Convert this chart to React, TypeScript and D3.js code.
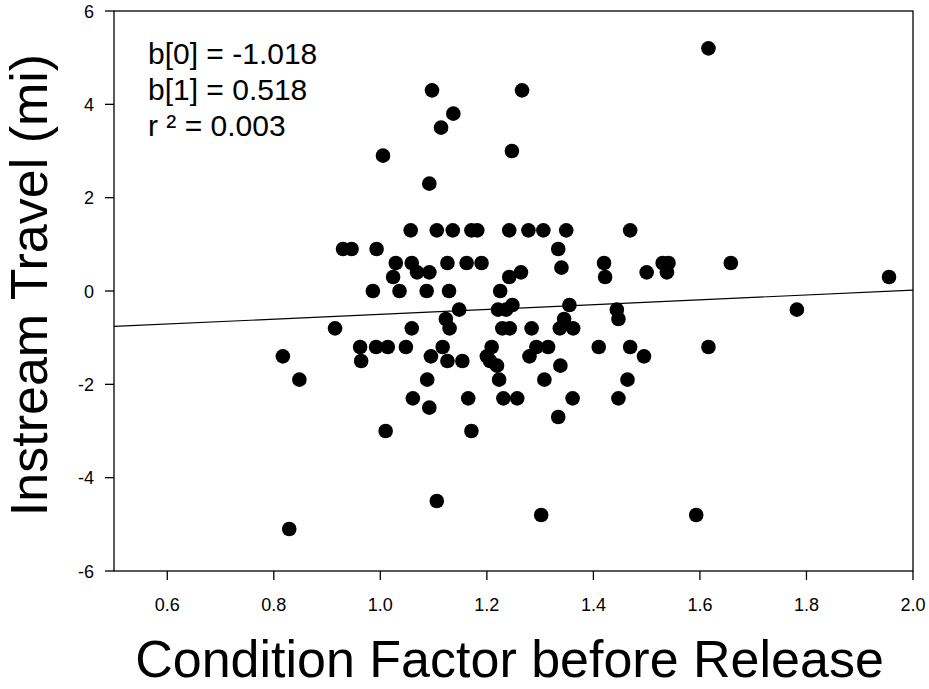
import React from "react";
import * as d3 from "d3";

const conditionFactor = [
  1.616, 1.469, 1.420, 1.422, 1.500, 1.530, 1.541, 1.538, 1.658, 1.955,
  1.444, 1.447, 1.782, 1.410, 1.469, 1.495, 1.616, 1.092, 1.057, 1.106,
  1.136, 0.930, 0.946, 0.993, 1.029, 1.059, 1.069, 1.092, 1.024, 1.126,
  0.986, 1.036, 1.087, 1.129, 1.148, 1.123, 1.130, 0.915, 1.059, 0.817,
  0.848, 0.962, 0.992, 1.014, 1.048, 0.964, 1.117, 1.095, 1.126, 1.154,
  1.088, 1.061, 1.092, 1.010, 1.171, 1.182, 1.242, 1.278, 1.306, 1.349,
  1.334, 1.162, 1.190, 1.264, 1.242, 1.340, 1.225, 1.221, 1.236, 1.248,
  1.355, 1.229, 1.243, 1.284, 1.345, 1.337, 1.362, 1.209, 1.293, 1.315,
  1.280, 1.200, 1.206, 1.219, 1.338, 1.223, 1.308, 1.464, 1.165, 1.231,
  1.257, 1.361, 1.447, 1.334, 1.171, 1.005, 1.097, 1.114, 1.137, 1.266,
  1.247, 0.829, 1.106, 1.302, 1.593,
];

const instreamTravel = [
  5.2, 1.3, 0.6, 0.3, 0.4, 0.6, 0.6, 0.4, 0.6, 0.3,
  -0.4, -0.6, -0.4, -1.2, -1.2, -1.4, -1.2, 2.3, 1.3, 1.3,
  1.3, 0.9, 0.9, 0.9, 0.6, 0.6, 0.4, 0.4, 0.3, 0.6,
  0.0, 0.0, 0.0, 0.0, -0.4, -0.6, -0.8, -0.8, -0.8, -1.4,
  -1.9, -1.2, -1.2, -1.2, -1.2, -1.5, -1.2, -1.4, -1.5, -1.5,
  -1.9, -2.3, -2.5, -3.0, 1.3, 1.3, 1.3, 1.3, 1.3, 1.3,
  0.9, 0.6, 0.6, 0.4, 0.3, 0.5, 0.0, -0.4, -0.4, -0.3,
  -0.3, -0.8, -0.8, -0.8, -0.6, -0.8, -0.8, -1.2, -1.2, -1.2,
  -1.4, -1.4, -1.5, -1.6, -1.6, -1.9, -1.9, -1.9, -2.3, -2.3,
  -2.3, -2.3, -2.3, -2.7, -3.0, 2.9, 4.3, 3.5, 3.8, 4.3,
  3.0, -5.1, -4.5, -4.8, -4.8,
];

const xTicks = [0.6, 0.8, 1.0, 1.2, 1.4, 1.6, 1.8, 2.0];
const yTicks = [-6, -4, -2, 0, 2, 4, 6];
const b0 = -1.018;
const b1 = 0.518;
const r2 = 0.003;
const statLines = [`b[0] = ${b0.toFixed(3)}`, `b[1] = ${b1.toFixed(3)}`, `r ² = ${r2.toFixed(3)}`];

const W = 929;
const H = 689;
const left = 114;
const right = 913;
const top = 11;
const bottom = 571;
const FONT = "'Liberation Sans', Arial, Helvetica, sans-serif";

export default function App() {
  const x = d3.scaleLinear().domain([0.5, 2.0]).range([left, right]);
  const y = d3.scaleLinear().domain([-6, 6]).range([bottom, top]);
  const regLine = d3.line<number>().x((d) => x(d)).y((d) => y(b0 + b1 * d));
  const points = conditionFactor.map((cf, i) => ({ cf, it: instreamTravel[i] }));

  return (
    <svg
      width={W}
      height={H}
      style={{ position: "absolute", left: 0, top: 0, background: "#fff" }}
      fontFamily={FONT}
    >
      <rect x={0} y={0} width={W} height={H} fill="#fff" />
      <rect x={left} y={top} width={right - left} height={bottom - top} fill="none" stroke="#000" strokeWidth={1.3} />
      <path d={regLine([0.5, 2.0]) || ""} fill="none" stroke="#000" strokeWidth={1.2} />
      {points.map((p, i) => (
        <circle key={i} cx={x(p.cf)} cy={y(p.it)} r={7.3} fill="#000" />
      ))}
      {xTicks.map((t) => (
        <g key={t}>
          <line x1={x(t)} x2={x(t)} y1={bottom} y2={bottom + 9} stroke="#000" strokeWidth={1.3} />
          <text x={x(t)} y={bottom + 40} textAnchor="middle" fontSize={18} fill="#000">
            {t.toFixed(1)}
          </text>
        </g>
      ))}
      {yTicks.map((t) => (
        <g key={t}>
          <line x1={left - 9} x2={left} y1={y(t)} y2={y(t)} stroke="#000" strokeWidth={1.3} />
          <text x={left - 20} y={y(t) + 6.5} textAnchor="end" fontSize={18} fill="#000">
            {t}
          </text>
        </g>
      ))}
      {statLines.map((s, i) => (
        <text key={i} x={148} y={64 + i * 36} fontSize={30} fill="#000">
          {s}
        </text>
      ))}
      <text x={(left + right) / 2 - 4} y={677} textAnchor="middle" fontSize={52} fill="#000">
        Condition Factor before Release
      </text>
      <text
        transform={`translate(47, ${(top + bottom) / 2 - 6}) rotate(-90)`}
        textAnchor="middle"
        fontSize={52}
        fill="#000"
      >
        Instream Travel (mi)
      </text>
    </svg>
  );
}
